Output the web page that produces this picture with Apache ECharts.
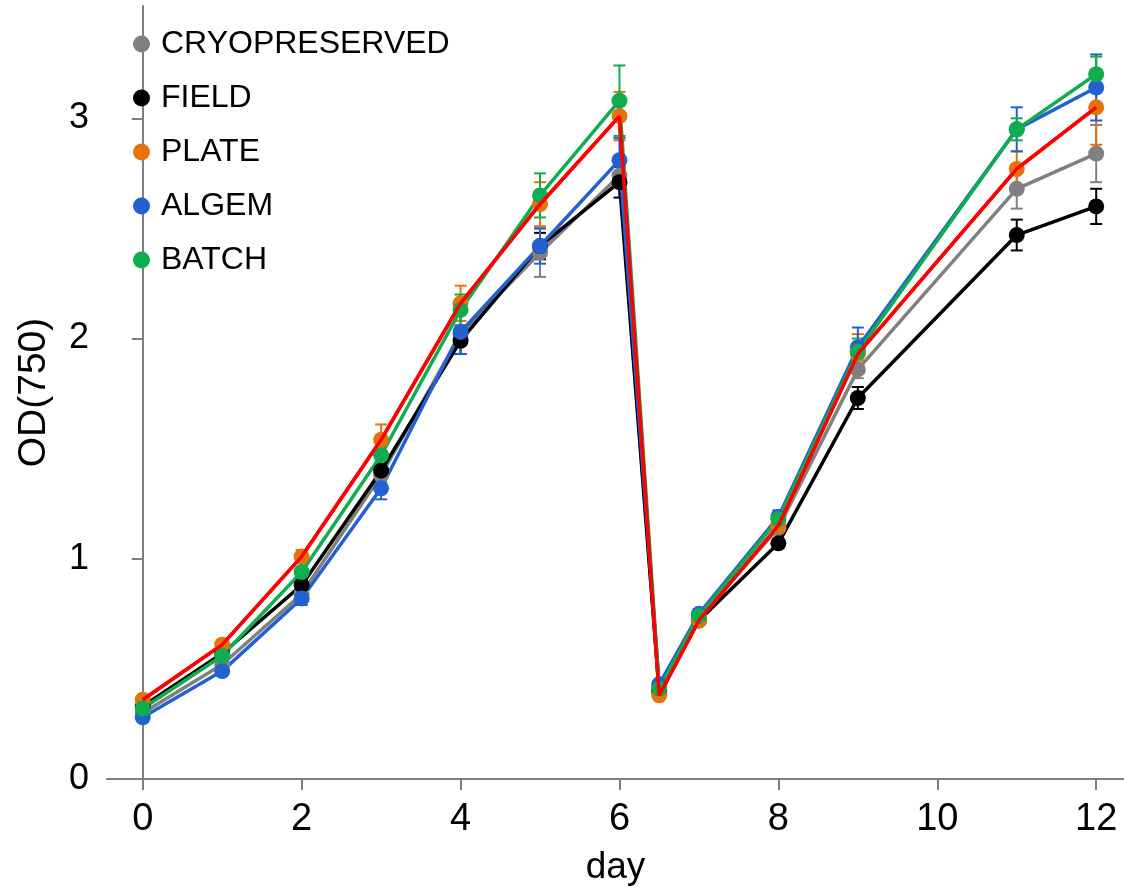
<!DOCTYPE html>
<html>
<head>
<meta charset="utf-8">
<script src="https://cdn.jsdelivr.net/npm/echarts@6/dist/echarts.min.js"></script>
<style>
  html, body { margin: 0; padding: 0; background: #fff; }
  #chart { width: 1124px; height: 891px; }
</style>
</head>
<body>
<div id="chart"></div>
<script>
// days sampled (culture was diluted after day 6)
const days = [0, 1, 2, 3, 4, 5, 6, 6.5, 7, 8, 9, 11, 12]
const xTicks = [0, 2, 4, 6, 8, 10, 12]
const yTicks = [0, 1, 2, 3]

const names = ['CRYOPRESERVED', 'FIELD', 'PLATE', 'ALGEM', 'BATCH']

const cryoOD  = [0.30, 0.52, 0.84, 1.38, 2.02, 2.39, 2.74, 0.40, 0.73, 1.14, 1.86, 2.68, 2.84]
const fieldOD = [0.33, 0.57, 0.88, 1.40, 1.99, 2.42, 2.71, 0.40, 0.72, 1.07, 1.73, 2.47, 2.60]
const plateOD = [0.36, 0.61, 1.01, 1.54, 2.16, 2.61, 3.01, 0.38, 0.72, 1.15, 1.93, 2.77, 3.05]
const algemOD = [0.28, 0.49, 0.82, 1.32, 2.03, 2.42, 2.81, 0.43, 0.75, 1.19, 1.96, 2.95, 3.14]
const batchOD = [0.32, 0.56, 0.94, 1.47, 2.13, 2.65, 3.08, 0.41, 0.74, 1.18, 1.94, 2.95, 3.20]

// standard deviations
const cryoErr  = [0.01, 0.01, 0.02, 0.03, 0.04, 0.11, 0.05, 0.01, 0.02, 0.03, 0.04, 0.09, 0.13]
const fieldErr = [0.01, 0.01, 0.02, 0.03, 0.06, 0.06, 0.07, 0.01, 0.02, 0.02, 0.05, 0.07, 0.08]
const plateErr = [0.01, 0.02, 0.03, 0.07, 0.08, 0.10, 0.11, 0.01, 0.02, 0.03, 0.09, 0.08, 0.17]
const algemErr = [0.02, 0.02, 0.03, 0.05, 0.10, 0.08, 0.10, 0.01, 0.02, 0.03, 0.09, 0.10, 0.15]
const batchErr = [0.01, 0.02, 0.02, 0.04, 0.07, 0.10, 0.16, 0.01, 0.02, 0.03, 0.06, 0.05, 0.08]

const font = '"Liberation Sans", Arial, sans-serif'
const axisGray = '#7f7f7f'

let groups = [
  { name: names[0], od: cryoOD,  err: cryoErr,  color: '#808080', line: '#808080' },
  { name: names[1], od: fieldOD, err: fieldErr, color: '#000000', line: '#000000' },
  { name: names[2], od: plateOD, err: plateErr, color: '#e4730c', line: '#ff0000' },
  { name: names[3], od: algemOD, err: algemErr, color: '#2261cf', line: '#2261cf' },
  { name: names[4], od: batchOD, err: batchErr, color: '#10ad50', line: '#10ad50' }
]

function renderErrorBar(params, api) {
  let x = api.value(0), y = api.value(1), e = api.value(2)
    , top = api.coord([x, y + e])
    , bot = api.coord([x, y - e])
    , hw = 6
    , style = { stroke: api.visual('color'), lineWidth: 2 }
  return {
    type: 'group',
    children: [
      { type: 'line', shape: { x1: top[0], y1: top[1], x2: bot[0], y2: bot[1] }, style },
      { type: 'line', shape: { x1: top[0] - hw, y1: top[1], x2: top[0] + hw, y2: top[1] }, style },
      { type: 'line', shape: { x1: bot[0] - hw, y1: bot[1], x2: bot[0] + hw, y2: bot[1] }, style }
    ]
  }
}

let series = []
groups.forEach(g => {
  series.push({
    type: 'custom',
    name: g.name + ' sd',
    renderItem: renderErrorBar,
    encode: { x: 0, y: 1 },
    itemStyle: { color: g.color },
    data: days.map((d, i) => [d, g.od[i], g.err[i]]),
    z: 1,
    silent: true
  })
})
groups.forEach(g => {
  series.push({
    type: 'line',
    name: g.name,
    data: days.map((d, i) => [d, g.od[i]]),
    symbol: 'circle',
    symbolSize: 16,
    itemStyle: { color: g.color },
    lineStyle: { color: g.line, width: 3.5 },
    z: 2
  })
})
// PLATE line sits on top of everything in the original
series.push({
  type: 'line',
  name: 'plate-line',
  data: days.map((d, i) => [d, plateOD[i]]),
  showSymbol: false,
  lineStyle: { color: '#ff0000', width: 3.5 },
  z: 5,
  silent: true
})

let chart = echarts.init(document.getElementById('chart'))
chart.setOption({
  animation: false,
  backgroundColor: '#fff',
  grid: { left: 107, right: 0, top: 6, bottom: 109 },
  legend: {
    data: names,
    orient: 'vertical',
    left: 128,
    top: 23,
    icon: 'circle',
    itemWidth: 17,
    itemHeight: 17,
    itemGap: 22,
    textStyle: { fontSize: 32, color: '#000', fontFamily: font, lineHeight: 32, padding: [0, 0, 0, 6] }
  },
  xAxis: {
    type: 'value',
    min: -0.45,
    max: 12.35,
    name: 'day',
    nameLocation: 'middle',
    nameGap: 70,
    nameTextStyle: { fontSize: 37, color: '#000', fontFamily: font },
    axisLine: { onZero: false, lineStyle: { color: axisGray, width: 2 } },
    axisTick: { customValues: xTicks, length: 11, lineStyle: { color: axisGray, width: 2 } },
    axisLabel: { customValues: xTicks, fontSize: 38, color: '#000', fontFamily: font, margin: 22 },
    splitLine: { show: false }
  },
  yAxis: {
    type: 'value',
    min: 0,
    max: 3.51,
    name: 'OD(750)',
    nameLocation: 'middle',
    nameRotate: 90,
    nameGap: 53,
    nameTextStyle: { fontSize: 39, color: '#000', fontFamily: font },
    axisLine: { show: true, lineStyle: { color: axisGray, width: 2 } },
    axisTick: { show: true, customValues: yTicks, length: 11, lineStyle: { color: axisGray, width: 2 } },
    axisLabel: { customValues: yTicks, fontSize: 36, color: '#000', fontFamily: font, margin: 18 },
    splitLine: { show: false }
  },
  series: series
})
</script>
</body>
</html>
